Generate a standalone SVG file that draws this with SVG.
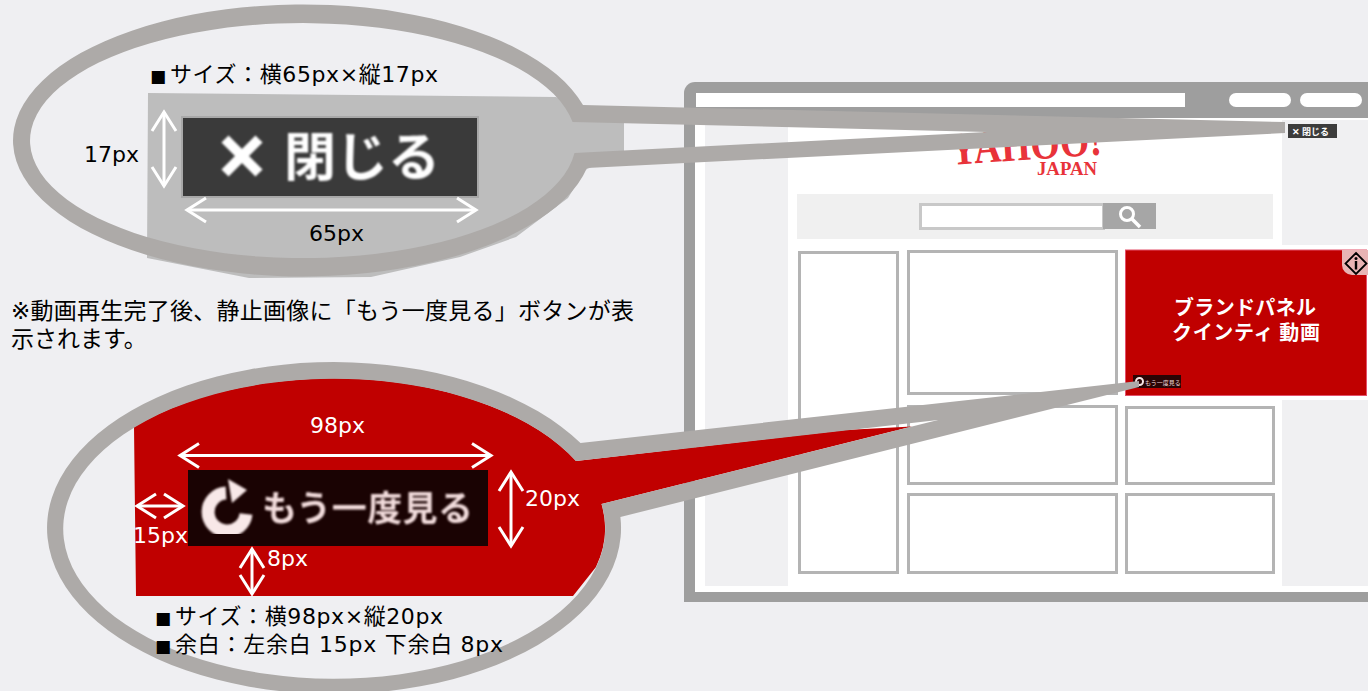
<svg xmlns="http://www.w3.org/2000/svg" width="1368" height="691" viewBox="0 0 1368 691">
<style>
text{font-family:"DejaVu Sans","Noto Sans CJK JP",sans-serif;font-size:22px;fill:#000}
.w{fill:#fff}
.jp{font-family:"Noto Sans CJK JP",sans-serif}
.sq{font-size:17px}
.box{fill:#fff;stroke:#b4b4b4;stroke-width:3}
.dim{fill:none;stroke:#fff;stroke-width:3;marker-start:url(#chev);marker-end:url(#chev)}
.ring{fill:#adaaa8;fill-rule:evenodd}
</style>
<defs>
<marker id="chev" markerUnits="userSpaceOnUse" markerWidth="40" markerHeight="40" orient="auto-start-reverse" overflow="visible">
<path d="M-19 -12L0 0L-19 12" fill="none" stroke="#fff" stroke-width="3"/>
</marker>
<filter id="soft" x="-5%" y="-5%" width="110%" height="110%"><feGaussianBlur stdDeviation="1"/></filter>
</defs>
<rect width="1368" height="691" fill="#efeff2"/>

<g id="browser">
<path d="M684 602V93a11 11 0 0 1 11-11H1368V602Z" fill="#9e9e9e"/>
<rect x="695" y="118" width="673" height="474" fill="#fff"/>
<rect x="696" y="93" width="489" height="14" fill="#fff"/>
<rect x="1229" y="93" width="62" height="14" rx="7" fill="#fff"/>
<rect x="1300" y="93" width="62" height="14" rx="7" fill="#fff"/>
<rect x="705" y="118" width="83" height="468" fill="#f0f0f2"/>
<rect x="1282" y="120" width="86" height="125" fill="#f0f0f2"/>
<rect x="1282" y="400" width="86" height="186" fill="#f0f0f2"/>
<rect x="797" y="194" width="476" height="45" fill="#f0f0f0"/>
<rect x="920.500" y="204.500" width="183" height="24" fill="#fff" stroke="#c8c8c8" stroke-width="3"/>
<rect x="1103" y="203" width="53" height="26" fill="#a6a6a6"/>
<circle cx="1127" cy="214" r="6.500" fill="none" stroke="#fff" stroke-width="3"/>
<path d="M1132 219L1140 227" stroke="#fff" stroke-width="3.500"/>
<rect class="box" x="799.500" y="252.500" width="98" height="320"/>
<rect class="box" x="908.500" y="251.500" width="208" height="142"/>
<rect class="box" x="908.500" y="406.500" width="208" height="77"/>
<rect class="box" x="1126.500" y="407.500" width="147" height="76"/>
<rect class="box" x="908.500" y="494.500" width="208" height="78"/>
<rect class="box" x="1126.500" y="494.500" width="147" height="78"/>
</g>

<g id="logo">
<text transform="translate(951 165) rotate(-4) scale(1 1.25)" textLength="152" lengthAdjust="spacingAndGlyphs" style="font-family:'Liberation Serif',serif;font-size:37px;font-weight:700;fill:#e8333a">YAHOO!</text>
<text x="1037" y="175" style="font-family:'Liberation Serif',serif;font-size:18px;font-weight:700;fill:#e8333a" textLength="60" lengthAdjust="spacingAndGlyphs">JAPAN</text>
</g>

<g id="close-mini">
<rect x="1288" y="124" width="49" height="14" fill="#3c3c3c"/>
<text class="w jp" x="1292" y="134.500" style="font-size:9px;font-weight:700">✕ 閉じる</text>
</g>

<g id="ad-panel">
<rect x="1125.500" y="250" width="241" height="145.500" fill="#c00000" stroke="#e4506a" stroke-width="1"/>
<path d="M1342 250H1368V275H1352a10 10 0 0 1-10-10Z" fill="#e8b4b4"/>
<path d="M1356 253L1366.500 263.500L1356 274L1345.500 263.500Z" fill="none" stroke="#000" stroke-width="1.800"/>
<rect x="1354.800" y="261" width="2.400" height="8.500" fill="#000"/>
<circle cx="1356" cy="258.500" r="1.500" fill="#000"/>
<text class="w jp" x="1174" y="315" textLength="142" style="font-size:20px;font-weight:700">ブランドパネル</text>
<text class="w jp" x="1172" y="340" textLength="148" style="font-size:20px;font-weight:700">クインティ 動画</text>
<rect x="1133" y="375" width="48" height="13" fill="#2a0505"/>
<text class="jp" x="1145" y="384.500" style="font-size:6px;fill:#f0dcdc">もう一度見る</text>
<circle cx="1139.500" cy="381.500" r="3.500" fill="none" stroke="#f8e8e8" stroke-width="2"/>
</g>

<g id="callout-close">
<path d="M148 93L556 97L585 112L624 118V152L585 170L568 198L516 237L460 257L371 277L249 278L147 258Z" fill="#bdbdbd"/>
<rect x="182" y="117" width="296" height="80" fill="#3a3a3a" stroke="#a8a8a8" stroke-width="2"/>
<g filter="url(#soft)">
<path d="M225 139L259 173M259 139L225 173" stroke="#fff" stroke-width="10" fill="none"/>
<text class="w jp" x="284" y="176" style="font-size:52px;font-weight:700">閉じる</text>
</g>
<text x="84" y="162">17px</text>
<text x="309" y="241">65px</text>
</g>

<g id="note">
<text x="11" y="319" textLength="623" style="font-size:23px">※動画再生完了後、静止画像に「もう一度見る」ボタンが表</text>
<text x="11" y="347" style="font-size:23px">示されます。</text>
</g>

<g id="callout-replay">
<path d="M134 427A271 150 0 0 1 576 461L845 430L912 426.500L601.500 504A271 150 0 0 1 596 567L573 596H136Z" fill="#c00000"/>
<rect x="188" y="470" width="300" height="76" fill="#1a0303"/>
<g filter="url(#soft)">
<path d="M246 514A19 19 0 1 1 226 493" fill="none" stroke="#f8e8e8" stroke-width="13"/>
<path d="M228 479L247 490L232 503Z" fill="#f8e8e8"/>
<text class="jp" x="262" y="521" textLength="211" style="font-size:35px;font-weight:700;fill:#f2dcdc">もう一度見る</text>
</g>
<text class="w" x="310" y="433">98px</text>
<text class="w" x="133" y="543">15px</text>
<text class="w" x="525" y="506">20px</text>
<text class="w" x="267" y="566">8px</text>
</g>

<g id="connectors">
<path class="ring" d="M587 168A290 136 0 1 1 583 105L1285 122V133ZM572.600 122L987 132L574.500 153A273 117.500 0 1 1 572.600 122Z"/>
<path class="ring" d="M620.400 517A287 166 0 1 1 580.500 443L1139 381V387ZM576 461L938 420L601.500 504A271 150 0 1 1 576 461Z"/>
<path class="dim" d="M164 112V186"/>
<path class="dim" d="M187 210H476"/>
<path class="dim" d="M180 455.500H491"/>
<path class="dim" d="M511 472V546"/>
<path class="dim" d="M137 506H183"/>
<path class="dim" d="M252 549V594"/>
</g>

<g id="captions">
<text x="150" y="82"><tspan class="sq">■</tspan><tspan x="170" textLength="268">サイズ：横65px×縦17px</tspan></text>
<text x="155" y="624"><tspan class="sq">■</tspan><tspan x="175" textLength="268">サイズ：横98px×縦20px</tspan></text>
<text x="155" y="652"><tspan class="sq">■</tspan><tspan x="175" textLength="328">余白：左余白 15px 下余白 8px</tspan></text>
</g>
</svg>
